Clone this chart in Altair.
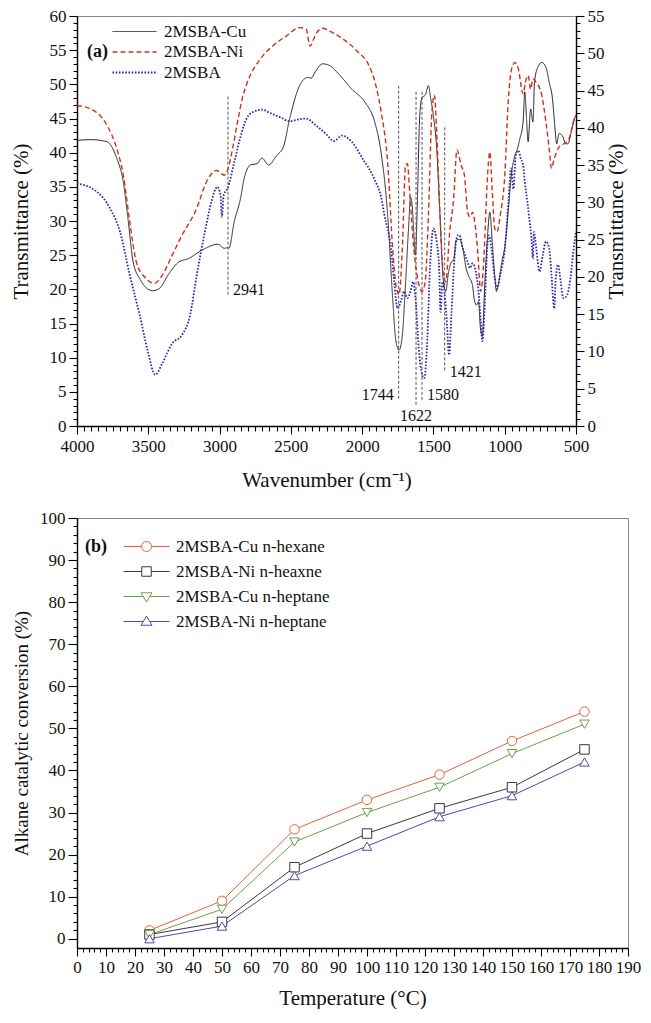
import altair as alt
import pandas as pd

FONT = "Liberation Serif"

# ---------------- Panel (a): FT-IR spectra ----------------
series_a = ["2MSBA-Cu", "2MSBA-Ni", "2MSBA"]
colors_a = ["#262626", "#D0301A", "#2A2AA8"]
dashes_a = [[1, 0], [5, 3], [1.6, 1.6]]
widths_a = [1.0, 1.8, 1.4]

cu_wn = [4000, 3900, 3790, 3720, 3675, 3640, 3606, 3561, 3470, 3424, 3355, 3286, 3218, 3126, 3011,
         2966, 2943, 2935, 2897, 2851, 2828, 2782, 2737, 2702, 2656, 2599, 2553, 2508, 2439, 2382,
         2359, 2324, 2279, 2233, 2164, 2073, 1981, 1912, 1867, 1821, 1786, 1763, 1741, 1718, 1695,
         1672, 1661, 1649, 1638, 1626, 1615, 1596, 1580, 1558, 1535, 1519, 1500, 1477, 1454, 1432,
         1413, 1397, 1374, 1358, 1340, 1317, 1294, 1271, 1250, 1226, 1214, 1198, 1184, 1168, 1157,
         1139, 1123, 1104, 1088, 1070, 1058, 1042, 1020, 997, 974, 951, 928, 910, 894, 871, 859,
         848, 836, 818, 802, 791, 768, 740, 711, 688, 665, 649, 635, 619, 596, 573, 557, 534, 511, 500]
cu_t = [41.8, 41.9, 41.6, 39.1, 35.7, 29.9, 24.0, 21.6, 19.8, 20.1, 22.3, 24.0, 24.5, 25.7, 26.6,
        26.0, 26.1, 26.0, 29.9, 33.5, 36.2, 38.2, 38.4, 39.2, 38.2, 39.6, 40.8, 45.0, 49.8, 51.0,
        50.9, 52.0, 53.0, 52.8, 51.5, 49.3, 47.4, 44.5, 40.0, 30.9, 18.7, 12.4, 11.1, 13.3, 21.1,
        29.9, 33.5, 32.3, 28.4, 25.0, 30.9, 45.4, 48.1, 48.4, 49.8, 47.9, 45.4, 40.6, 30.9, 21.6,
        19.7, 22.1, 24.0, 24.3, 27.2, 27.3, 26.0, 23.1, 21.8, 20.6, 18.6, 17.7, 18.2, 13.8, 13.3,
        21.1, 27.0, 31.3, 27.0, 22.1, 19.7, 21.1, 24.0, 26.5, 31.8, 37.2, 39.6, 40.6, 42.0, 44.5, 48.9,
        45.4, 41.6, 46.4, 44.5, 50.3, 52.5, 53.2, 52.5, 50.3, 47.9, 44.0, 41.3, 42.8, 42.5, 41.3, 41.3, 43.0, 45.0, 45.5]

ni_wn = [4000, 3885, 3790, 3721, 3675, 3630, 3584, 3526, 3458, 3401, 3332, 3264, 3172, 3080, 3023,
         2966, 2943, 2905, 2874, 2840, 2805, 2714, 2622, 2530, 2439, 2393, 2366, 2324, 2279, 2210,
         2119, 2027, 1958, 1912, 1867, 1821, 1786, 1763, 1741, 1718, 1695, 1683, 1665, 1638, 1615,
         1580, 1558, 1535, 1512, 1493, 1477, 1454, 1432, 1413, 1386, 1358, 1335, 1306, 1283, 1260,
         1244, 1226, 1207, 1191, 1168, 1145, 1123, 1104, 1088, 1070, 1054, 1031, 1001, 974, 951,
         928, 905, 871, 855, 836, 818, 802, 779, 740, 711, 688, 672, 653, 619, 585, 550, 511, 500]
ni_t = [46.9, 46.2, 44.0, 40.6, 36.7, 29.9, 24.0, 21.8, 20.9, 22.1, 25.0, 27.9, 31.3, 36.2, 37.4,
        36.7, 37.5, 41.0, 44.5, 48.0, 50.3, 53.7, 55.7, 57.1, 58.3, 58.1, 55.6, 57.4, 58.2, 57.6,
        56.4, 54.7, 53.0, 50.5, 46.0, 38.5, 26.0, 20.6, 19.2, 26.0, 38.2, 38.4, 33.8, 26.0, 22.1,
        19.7, 21.1, 30.9, 45.4, 48.4, 43.0, 30.9, 22.6, 21.1, 28.4, 33.3, 40.4, 38.2, 36.7, 31.3,
        30.6, 31.3, 29.4, 26.0, 19.7, 25.0, 35.7, 40.1, 34.7, 28.9, 28.4, 30.9, 36.2, 47.9, 52.3,
        53.2, 52.3, 48.6, 50.3, 51.3, 49.3, 50.8, 50.3, 48.4, 44.5, 40.6, 37.7, 39.1, 40.8, 41.3, 42.0, 45.0, 45.5]

ms_wn = [4000, 3862, 3767, 3698, 3630, 3561, 3503, 3451, 3401, 3332, 3264, 3206, 3160, 3103, 3057,
         3016, 2993, 2984, 2971, 2943, 2897, 2851, 2805, 2759, 2702, 2645, 2576, 2508, 2439, 2393,
         2324, 2256, 2199, 2141, 2073, 1981, 1958, 1912, 1867, 1844, 1798, 1775, 1752, 1729, 1706,
         1683, 1661, 1642, 1626, 1603, 1580, 1564, 1546, 1523, 1500, 1477, 1459, 1450, 1436, 1409,
         1390, 1374, 1351, 1329, 1317, 1294, 1260, 1244, 1226, 1203, 1184, 1168, 1157, 1139, 1123,
         1111, 1093, 1070, 1054, 1031, 997, 974, 955, 939, 923, 905, 887, 871, 859, 841, 825, 814,
         802, 795, 779, 756, 733, 711, 688, 672, 653, 642, 626, 607, 589, 562, 539, 516, 500]
ms_t = [35.5, 34.3, 31.8, 28.4, 22.1, 16.3, 10.9, 7.5, 9.2, 12.1, 13.3, 16.3, 22.1, 28.4, 32.8,
        35.0, 33.8, 30.6, 33.8, 34.8, 38.6, 42.5, 45.2, 46.0, 46.3, 45.8, 45.2, 44.6, 44.9, 45.0,
        44.0, 42.8, 41.7, 42.5, 41.6, 38.6, 37.9, 36.0, 33.5, 30.9, 26.0, 21.1, 17.2, 18.2, 19.7,
        18.7, 19.7, 21.1, 18.7, 11.4, 7.5, 7.0, 11.4, 23.6, 28.9, 27.0, 22.6, 16.7, 21.1, 16.3,
        10.4, 16.3, 25.0, 27.9, 27.9, 26.0, 24.0, 23.1, 23.8, 22.6, 19.7, 15.3, 12.4, 18.2, 26.0,
        27.9, 26.0, 21.6, 20.1, 22.1, 26.5, 32.8, 37.7, 34.7, 39.6, 40.3, 39.1, 38.2, 35.7, 32.8, 29.9, 27.9,
        24.5, 28.4, 26.0, 22.6, 25.0, 27.0, 26.0, 22.1, 17.2, 21.6, 23.6, 21.1, 18.7, 19.2, 21.6, 26.0, 28.5]

peak_wn = [2941, 1744, 1622, 1580, 1421]
peak_top = [48.2, 49.8, 48.9, 48.9, 43.7]
peak_bottom = [19.2, 3.8, 3.1, 3.8, 8.0]
peak_label_y = [19.9, 4.6, 1.5, 4.6, 7.9]
peak_side = ["right", "left", "below", "right", "right"]

rows = []
for name, wns, ts in zip(series_a, [cu_wn, ni_wn, ms_wn], [cu_t, ni_t, ms_t]):
    for w, t in zip(wns, ts):
        rows.append({"series": name, "wn": w, "t": t})
df_a = pd.DataFrame(rows)
df_peaks = pd.DataFrame({"wn": peak_wn, "top": peak_top, "bottom": peak_bottom,
                         "ly": peak_label_y, "side": peak_side,
                         "label": [str(v) for v in peak_wn]})

x_scale_a = alt.Scale(domain=[4000, 500], nice=False, zero=False)
y_scale_a = alt.Scale(domain=[0, 60], nice=False, zero=False)

x_axis_a = alt.Axis(title="Wavenumber (cm⁻¹)", values=list(range(500, 4001, 50)), format="d",
                    labelExpr="datum.value % 500 === 0 ? datum.label : ''",
                    tickSize={"condition": {"test": "datum.value % 500 === 0", "value": 8}, "value": 5},
                    labelOverlap=False, labelFlush=False, labelPadding=4, titlePadding=15)
y_axis_a = alt.Axis(title="Transmittance (%)", values=list(range(0, 61)), format="d",
                    labelExpr="datum.value % 5 === 0 ? datum.label : ''",
                    tickSize={"condition": {"test": "datum.value % 5 === 0", "value": 8}, "value": 4},
                    labelOverlap=False, labelFlush=False, labelPadding=3, titlePadding=18)

leg_a = alt.Legend(orient="none", legendX=10, legendY=7, title="(a)", titleOrient="left",
                   titleAnchor="middle", titleBaseline="middle", titleFontSize=18, titleFontWeight="bold",
                   titleFont=FONT, titlePadding=1, titleColor="#111",
                   symbolType="M-4.4,0H4.4", symbolSize=100, symbolOffset=17,
                   labelFont=FONT, labelFontSize=17, labelFontWeight="normal", labelColor="#111",
                   labelOffset=21, rowPadding=2.5, padding=0)

xa = alt.X("wn:Q", scale=x_scale_a, axis=x_axis_a)

lines_a = alt.Chart(df_a).mark_line(interpolate="monotone", clip=True).encode(
    x=xa,
    y=alt.Y("t:Q", scale=y_scale_a, axis=y_axis_a),
    color=alt.Color("series:N", scale=alt.Scale(domain=series_a, range=colors_a), legend=leg_a),
    strokeDash=alt.StrokeDash("series:N", scale=alt.Scale(domain=series_a, range=dashes_a), legend=leg_a),
    strokeWidth=alt.StrokeWidth("series:N", scale=alt.Scale(domain=series_a, range=widths_a), legend=leg_a),
)

rules_a = alt.Chart(df_peaks).mark_rule(strokeDash=[3, 2], color="#555555", strokeWidth=1).encode(
    x=xa,
    y=alt.Y("top:Q", scale=y_scale_a, axis=y_axis_a),
    y2="bottom:Q",
)

def peak_text(side, align, dx):
    return alt.Chart(df_peaks).transform_filter(alt.datum.side == side).mark_text(
        font=FONT, fontSize=16, align=align, baseline="middle", dx=dx, color="#111"
    ).encode(
        x=xa,
        y=alt.Y("ly:Q", scale=y_scale_a, axis=y_axis_a),
        text="label:N",
    )

left_a = alt.layer(lines_a, rules_a,
                   peak_text("right", "left", 5),
                   peak_text("left", "right", -5),
                   peak_text("below", "center", 0))

right_a = alt.Chart(df_a).mark_line(opacity=0, clip=True).encode(
    x=xa,
    y=alt.Y("t:Q", scale=alt.Scale(domain=[0, 55], nice=False, zero=False),
            axis=alt.Axis(orient="right", title="Transmittance (%)", titleAngle=270, titleBaseline="top",
                          values=list(range(0, 56)), format="d",
                          labelExpr="datum.value % 5 === 0 ? datum.label : ''",
                          tickSize={"condition": {"test": "datum.value % 5 === 0", "value": 8}, "value": 4},
                          labelOverlap=False, labelFlush=False, labelPadding=3, titlePadding=1)),
    detail="series:N",
)

panel_a = alt.layer(left_a, right_a).resolve_scale(y="independent").properties(width=499, height=410)

# ---------------- Panel (b): catalytic conversion ----------------
temps = [25, 50, 75, 100, 125, 150, 175]
series_b = ["2MSBA-Cu n-hexane", "2MSBA-Ni n-heaxne", "2MSBA-Cu n-heptane", "2MSBA-Ni n-heptane"]
cu_hexane = [2, 9, 26, 33, 39, 47, 54]
ni_hexane = [1, 4, 17, 25, 31, 36, 45]
cu_heptane = [1, 7, 23, 30, 36, 44, 51]
ni_heptane = [0, 3, 15, 22, 29, 34, 42]
colors_b = ["#E8603C", "#3A3A3A", "#6E9E48", "#4B4BB4"]
shapes_b = ["circle", "square", "triangle-down", "triangle-up"]

# legend glyphs: a short line with the hollow marker in its middle
legend_glyphs_b = [
    "M-4.6,0H-1M1,0H4.6M-1,0A1,1 0 1,0 1,0A1,1 0 1,0 -1,0Z",
    "M-4.6,0H-0.95M0.95,0H4.6M-0.95,-0.95H0.95V0.95H-0.95Z",
    "M-4.6,0H-0.65M0.65,0H4.6M-1.1,-0.75L1.1,-0.75L0,1.1Z",
    "M-4.6,0H-0.65M0.65,0H4.6M-1.1,0.75L1.1,0.75L0,-1.1Z",
]

rows_b = []
for name, vals in zip(series_b, [cu_hexane, ni_hexane, cu_heptane, ni_heptane]):
    for t, v in zip(temps, vals):
        rows_b.append({"series": name, "temp": t, "conv": v})
df_b = pd.DataFrame(rows_b)

x_scale_b = alt.Scale(domain=[0, 190], nice=False, zero=False)
y_scale_b = alt.Scale(domain=[-2.2, 100], nice=False, zero=False)

x_axis_b = alt.Axis(title="Temperature (°C)", values=list(range(0, 191, 2)), format="d",
                    labelExpr="datum.value % 10 === 0 ? datum.label : ''",
                    tickSize={"condition": {"test": "datum.value % 10 === 0", "value": 8}, "value": 4},
                    labelOverlap=False, labelFlush=False, labelPadding=3, titlePadding=12)
y_axis_b = alt.Axis(title="Alkane catalytic conversion (%)", values=list(range(0, 101, 2)), format="d",
                    labelExpr="datum.value % 10 === 0 ? datum.label : ''",
                    tickSize={"condition": {"test": "datum.value % 10 === 0", "value": 9}, "value": 4},
                    labelOverlap=False, labelFlush=False, labelPadding=3, titlePadding=8,
                    titleFontSize=19)

leg_b = alt.Legend(orient="none", legendX=8, legendY=20, title="(b)", titleOrient="left",
                   titleAnchor="start", titleBaseline="top", titleFontSize=18, titleFontWeight="bold",
                   titleFont=FONT, titlePadding=13, titleColor="#111",
                   symbolSize=100, symbolOffset=18, symbolStrokeWidth=1, symbolOpacity=1,
                   symbolFillColor="white",
                   labelFont=FONT, labelFontSize=17, labelFontWeight="normal", labelColor="#111",
                   labelOffset=21, rowPadding=7, padding=0)

xb = alt.X("temp:Q", scale=x_scale_b, axis=x_axis_b)
yb = alt.Y("conv:Q", scale=y_scale_b, axis=y_axis_b)

lines_b = alt.Chart(df_b).mark_line(strokeWidth=1).encode(
    x=xb, y=yb,
    color=alt.Color("series:N", scale=alt.Scale(domain=series_b, range=colors_b), legend=None),
)
points_b = alt.Chart(df_b).mark_point(filled=True, fill="white", size=90, strokeWidth=1, opacity=1).encode(
    x=xb, y=yb,
    stroke=alt.Stroke("series:N", scale=alt.Scale(domain=series_b, range=colors_b), legend=None),
    shape=alt.Shape("series:N", scale=alt.Scale(domain=series_b, range=shapes_b), legend=None),
)
legend_layer_b = alt.Chart(df_b).mark_point(opacity=0, size=100, strokeWidth=1).encode(
    x=xb, y=yb,
    stroke=alt.Stroke("series:N", scale=alt.Scale(domain=series_b, range=colors_b), legend=leg_b),
    shape=alt.Shape("series:N", scale=alt.Scale(domain=series_b, range=legend_glyphs_b), legend=leg_b),
)

panel_b = alt.layer(lines_b, points_b, legend_layer_b).resolve_scale(
    shape="independent", stroke="independent").properties(width=551, height=430)

chart = alt.vconcat(panel_a, panel_b, spacing=17).resolve_scale(
    color="independent", stroke="independent", shape="independent",
    strokeDash="independent", strokeWidth="independent"
).configure(
    padding={"left": 1, "top": -2, "right": 0, "bottom": 0}, font=FONT
).configure_view(stroke="#888888", strokeWidth=1).configure_axis(
    labelFont=FONT, titleFont=FONT, labelFontSize=17, titleFontSize=21, labelColor="#111111",
    titleColor="#111111", titleFontWeight="normal", domainColor="#000000", domainWidth=1.4,
    tickColor="#000000", tickWidth=1.1, grid=False
)

chart.save("out.html", embed_options={"renderer": "svg", "actions": False})
